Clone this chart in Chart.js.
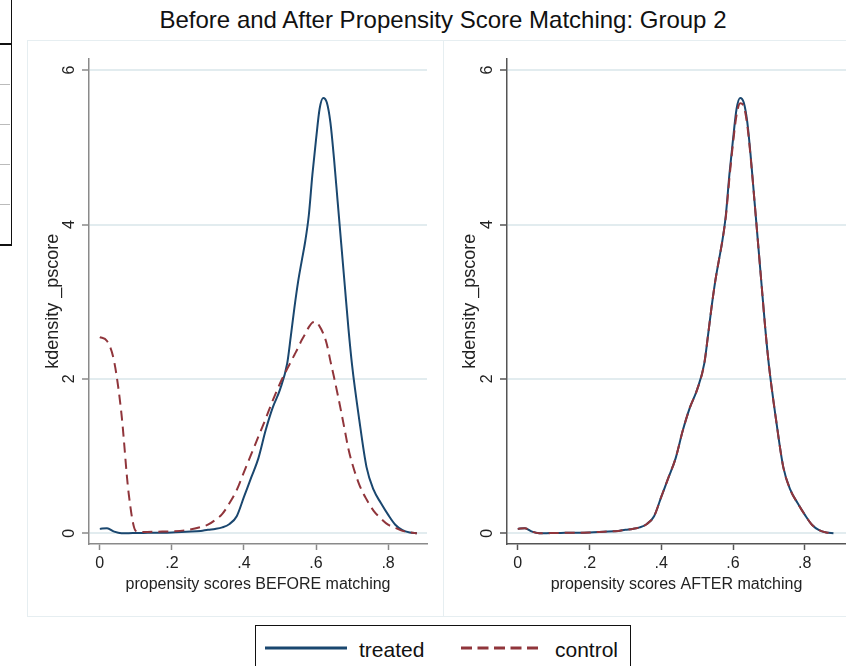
<!DOCTYPE html>
<html>
<head>
<meta charset="utf-8">
<script src="https://cdn.jsdelivr.net/npm/chart.js@4.4.1/dist/chart.umd.min.js"></script>
<style>
  html, body { margin: 0; padding: 0; background: #fff; }
  body { width: 846px; height: 666px; position: relative; overflow: hidden; font-family: 'Liberation Sans', Arial, sans-serif; }
  .abs { position: absolute; }
  #title { left: 0; width: 886px; top: 8px; text-align: center; font-size: 24px; line-height: 1; color: #111; }
  .frame { border: 1px solid #e6eef1; box-sizing: border-box; }
  #legend { left: 255px; top: 625px; width: 376px; height: 60px; border: 1px solid #111; box-sizing: border-box; }
  .lgtext { font-size: 21px; color: #111; line-height: 1; }
</style>
</head>
<body>
<!-- stray table edge from the screenshot -->
<div class="abs" style="left:0;top:0;width:11px;height:245px;border-right:1.5px solid #111;"></div>
<div class="abs" style="left:0;top:43px;width:11px;height:2px;background:#111;"></div>
<div class="abs" style="left:0;top:84px;width:10px;height:1px;background:#bbb;"></div>
<div class="abs" style="left:0;top:124px;width:10px;height:1px;background:#bbb;"></div>
<div class="abs" style="left:0;top:164px;width:10px;height:1px;background:#bbb;"></div>
<div class="abs" style="left:0;top:204px;width:10px;height:1px;background:#bbb;"></div>
<div class="abs" style="left:0;top:244px;width:12px;height:1.5px;background:#111;"></div>

<div id="title" class="abs">Before and After Propensity Score Matching: Group 2</div>

<div class="abs frame" style="left:27px;top:40px;width:417px;height:577px;"></div>
<div class="abs frame" style="left:443px;top:40px;width:410px;height:577px;"></div>

<div class="abs" style="left:27px;top:41px;width:416px;height:575px;"><canvas id="before" width="416" height="575"></canvas></div>
<div class="abs" style="left:444px;top:41px;width:402px;height:575px;"><canvas id="after" width="402" height="575"></canvas></div>

<div id="legend" class="abs">
  <svg class="abs" style="left:8px;top:19px;" width="84" height="6"><line x1="1" y1="3" x2="83" y2="3" stroke="#1a476f" stroke-width="3"/></svg>
  <span class="abs lgtext" style="left:103px;top:13px;">treated</span>
  <svg class="abs" style="left:204px;top:19px;" width="84" height="6"><line x1="1" y1="3" x2="83" y2="3" stroke="#90353b" stroke-width="3" stroke-dasharray="11 5.5"/></svg>
  <span class="abs lgtext" style="left:299px;top:13px;">control</span>
</div>

<script>
const psGrid = [0, .02, .04, .06, .08, .10, .12, .16, .20, .24, .28, .30, .32, .34, .36, .38,
  .40, .42, .44, .46, .48, .50, .52, .53, .54, .55, .56, .57, .58, .59,
  .60, .61, .62, .63, .64, .65, .66, .67, .68, .69, .70, .72, .74, .76, .78,
  .80, .82, .84, .86, .88];

const treatedBefore = [.056, .065, .02, 0, 0, .003, .004, .006, .01, .02, .03, .045, .055, .075, .12, .22,
  .47, .72, .97, 1.33, 1.63, 1.86, 2.2, 2.55, 2.92, 3.25, 3.52, 3.78, 4.12, 4.65,
  5.1, 5.5, 5.64, 5.58, 5.32, 4.85, 4.3, 3.75, 3.2, 2.65, 2.18, 1.47, .86, .56, .39,
  .24, .11, .04, .01, 0];

const controlBefore = [2.54, 2.49, 2.22, 1.55, .52, .03, .015, .02, .025, .04, .08, .11, .17, .25, .39, .56,
  .79, 1.02, 1.25, 1.48, 1.72, 1.94, 2.13, 2.22, 2.31, 2.40, 2.50, 2.58, 2.67, 2.73,
  2.74, 2.68, 2.59, 2.45, 2.23, 2.02, 1.80, 1.57, 1.33, 1.09, .91, .63, .44, .29, .19,
  .11, .07, .03, .01, 0];

const treatedAfter = [.056, .065, .02, 0, 0, .003, .004, .006, .01, .02, .03, .045, .055, .075, .12, .22,
  .47, .72, .97, 1.33, 1.63, 1.86, 2.2, 2.55, 2.92, 3.25, 3.52, 3.78, 4.12, 4.65,
  5.1, 5.5, 5.64, 5.58, 5.32, 4.85, 4.3, 3.75, 3.2, 2.65, 2.18, 1.47, .86, .56, .39,
  .24, .11, .04, .01, 0];

const controlAfter = [.056, .065, .02, 0, 0, .003, .004, .006, .01, .02, .03, .045, .055, .075, .12, .22,
  .47, .72, .97, 1.33, 1.63, 1.86, 2.2, 2.55, 2.92, 3.25, 3.52, 3.78, 4.1, 4.6,
  5.05, 5.42, 5.57, 5.53, 5.28, 4.83, 4.3, 3.75, 3.2, 2.65, 2.18, 1.47, .86, .56, .39,
  .24, .11, .04, .01, 0];

const xTicks = [0, .2, .4, .6, .8];
const yTicks = [0, 2, 4, 6];

const TREATED = '#1a476f';
const CONTROL = '#90353b';

Chart.defaults.font.family = "'Liberation Sans', Arial, sans-serif";
Chart.defaults.color = '#222';

function toPoints(ys) {
  return psGrid.map((x, i) => ({ x, y: ys[i] }));
}

function makePanel(id, treated, control, xTitle, xMax, padRight, axisColor) {
  return new Chart(document.getElementById(id), {
    type: 'line',
    data: {
      datasets: [
        {
          label: 'treated',
          data: toPoints(treated),
          borderColor: TREATED,
          borderWidth: 2,
          pointRadius: 0,
          cubicInterpolationMode: 'monotone',
          order: 1,
        },
        {
          label: 'control',
          data: toPoints(control),
          borderColor: CONTROL,
          borderWidth: 2,
          borderDash: [10, 6],
          pointRadius: 0,
          cubicInterpolationMode: 'monotone',
          order: 0,
        },
      ],
    },
    options: {
      responsive: false,
      animation: false,
      devicePixelRatio: 1,
      layout: { padding: { left: 0, right: padRight, top: 17, bottom: 0 } },
      plugins: { legend: { display: false }, tooltip: { enabled: false } },
      scales: {
        x: {
          type: 'linear',
          min: -0.03,
          max: xMax,
          afterBuildTicks: s => { s.ticks = xTicks.map(v => ({ value: v })); },
          afterFit: s => { s.height = 72; },
          ticks: {
            font: { size: 16 },
            color: '#222',
            padding: 4,
            maxRotation: 0,
            callback: v => (v === 0 ? '0' : v.toFixed(1).replace(/^0/, '')),
          },
          grid: { drawOnChartArea: false, drawTicks: true, tickLength: 6, tickColor: axisColor, tickWidth: 1.5 },
          border: { display: true, color: axisColor, width: 1.5 },
          title: { display: true, text: xTitle, font: { size: 16 }, color: '#222', padding: { top: 0, bottom: 22 } },
        },
        y: {
          type: 'linear',
          min: -0.14,
          max: 6.15,
          afterBuildTicks: s => { s.ticks = yTicks.map(v => ({ value: v })); },
          afterFit: s => { s.width = id === 'before' ? 62 : 63; },
          ticks: {
            font: { size: 16 },
            color: '#222',
            padding: 8,
            minRotation: 90,
            maxRotation: 90,
            crossAlign: 'center',
            callback: v => String(v),
          },
          grid: { color: '#e2ecef', lineWidth: 2, drawTicks: true, tickLength: 7, tickColor: axisColor, tickWidth: 1.5 },
          border: { display: true, color: axisColor, width: 1.5 },
          title: { display: true, text: 'kdensity _pscore', font: { size: 18 }, color: '#222', padding: { top: 15, bottom: 0 } },
        },
      },
    },
  });
}

makePanel('before', treatedBefore, controlBefore, 'propensity scores BEFORE matching', 0.908, 16, '#8a8a8a');
makePanel('after', treatedAfter, controlAfter, 'propensity scores AFTER matching', 0.915, 0, '#555');
</script>
</body>
</html>
